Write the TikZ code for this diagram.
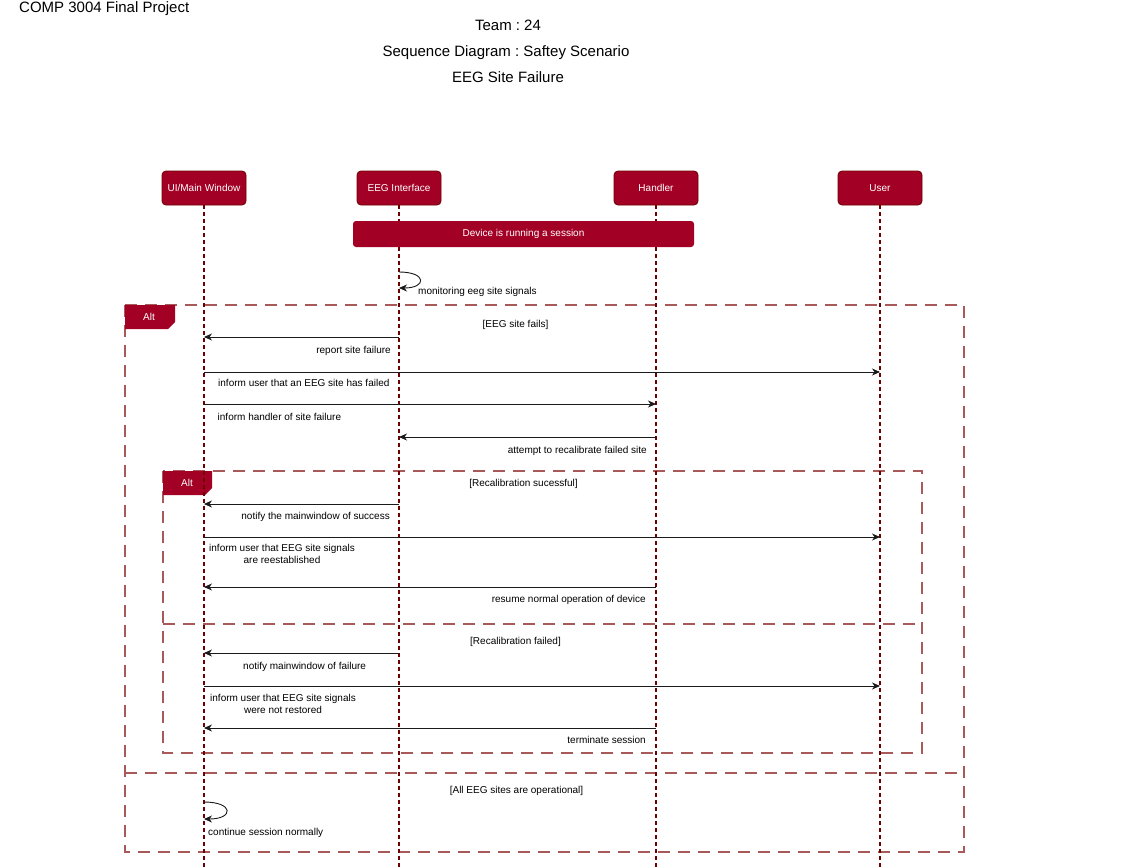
\documentclass[tikz,border=0pt]{standalone}
\usepackage{fontspec}
\setmainfont{Liberation Sans}
\frenchspacing
\usetikzlibrary{positioning,arrows.meta}
\definecolor{crimson}{HTML}{A20025}
\definecolor{darkred}{HTML}{6F0000}
\definecolor{framered}{HTML}{A85A5A}
\definecolor{msgline}{HTML}{1A1A1A}
\tikzset{
  every node/.style={
    font=\fontsize{10}{12}\selectfont,
    inner sep=0pt
  },
  head/.style={draw=darkred, fill=crimson, text=white, rounded corners=4pt,
    minimum width=84pt, minimum height=34pt, line width=0.8pt},
  life/.style={draw=darkred, line width=1.6pt, dash pattern=on 4pt off 3pt},
  frame/.style={draw=framered, line width=1.2pt, dash pattern=on 12pt off 8pt},
  msg/.style={draw=msgline, line width=0.9pt, -{Stealth[length=8pt,width=7pt,inset=2.5pt]}},
  title/.style={font=\fontsize{15}{18}\selectfont, anchor=base}
}

\begin{document}
\begin{tikzpicture}[x=1pt,y=-1pt]
      \useasboundingbox (0,0) rectangle (1129,867);
      \node [title, anchor=base west] (Course) at (19,12.5) {COMP 3004 Final Project};
      \node [title] (Team) at (508,31) {Team : 24};
      \node [title] (Kind) at (506,56.5) {Sequence Diagram : Saftey Scenario};
      \node [title] (Case) at (508,82.5) {EEG Site Failure};

      \node [head] (UI) at (204,188) {UI/Main Window};
      \node [head, on grid, right=195pt of UI] (EEG) {EEG Interface};
      \node [head, on grid, right=257pt of EEG] (Handler) {Handler};
      \node [head, on grid, right=224pt of Handler] (User) {User};
      \coordinate (Floor) at (0,867);

      \draw [frame] (125,305) rectangle (964,852);
      \draw [frame] (125,773) -- (964,773);
      \draw [frame] (163,471) rectangle (922,753);
      \draw [frame] (163,624) -- (922,624);
      \fill [crimson] (125,305) -- (175,305) -- (175,322) -- (168,329) -- (125,329) -- cycle;
      \node [text=white] (AltOuter) at (149,317) {Alt};
      \fill [crimson] (163,471) -- (212,471) -- (212,488) -- (205,495) -- (163,495) -- cycle;
      \node [text=white] (AltInner) at (187,483) {Alt};

      \draw [life] (UI.south) -- (UI |- Floor);
      \draw [life] (EEG.south) -- (EEG |- Floor);
      \draw [life] (Handler.south) -- (Handler |- Floor);
      \draw [life] (User.south) -- (User |- Floor);

      \node [head, draw=none, rounded corners=3pt, minimum width=341pt, minimum height=26pt]
      (Session) at (523.5,234) {Device is running a session};

      \draw [msg] (EEG |- 0,272) .. controls +(28,0) and +(28,0) .. (EEG |- 0,288);
      \node [anchor=mid west] (Monitor) at (418,292) {monitoring eeg site signals};

      \node (GuardFail) at (515.5,325) {[EEG site fails]};
      \draw [msg] (EEG |- 0,337) -- (UI |- 0,337);
      \node [anchor=mid east] (Report) at (391,351) {report site failure};
      \draw [msg] (UI |- 0,372) -- (User |- 0,372);
      \node [anchor=mid west] (InformUser) at (218,384) {inform user that an EEG site has failed};
      \draw [msg] (UI |- 0,404) -- (Handler |- 0,404);
      \node [anchor=mid west] (InformHandler) at (217.5,418) {inform handler of site failure};
      \draw [msg] (Handler |- 0,437) -- (EEG |- 0,437);
      \node [anchor=mid east] (Recal) at (647,451) {attempt to recalibrate failed site};

      \node (GuardOk) at (523.5,484) {[Recalibration sucessful]};
      \draw [msg] (EEG |- 0,504) -- (UI |- 0,504);
      \node [anchor=mid east] (NotifyOk) at (390,517) {notify the mainwindow of success};
      \draw [msg] (UI |- 0,537) -- (User |- 0,537);
      \node [align=center] (Restored) at (282,554) {inform user that EEG site signals\\are reestablished};
      \draw [msg] (Handler |- 0,587) -- (UI |- 0,587);
      \node [anchor=mid east] (Resume) at (646,600) {resume normal operation of device};

      \node (GuardBad) at (515.5,642) {[Recalibration failed]};
      \draw [msg] (EEG |- 0,653) -- (UI |- 0,653);
      \node [anchor=mid west] (NotifyBad) at (243,667) {notify mainwindow of failure};
      \draw [msg] (UI |- 0,686) -- (User |- 0,686);
      \node [align=center] (NotRestored) at (283,703.5) {inform user that EEG site signals\\were not restored};
      \draw [msg] (Handler |- 0,728) -- (UI |- 0,728);
      \node [anchor=mid east] (Terminate) at (646,741) {terminate session};

      \node (GuardAll) at (516.5,791) {[All EEG sites are operational]};
      \draw [msg] (UI |- 0,802) .. controls +(30,0) and +(30,0) .. (UI |- 0,819);
      \node [anchor=mid west] (Continue) at (208,833) {continue session normally};
    \end{tikzpicture}
\end{document}
